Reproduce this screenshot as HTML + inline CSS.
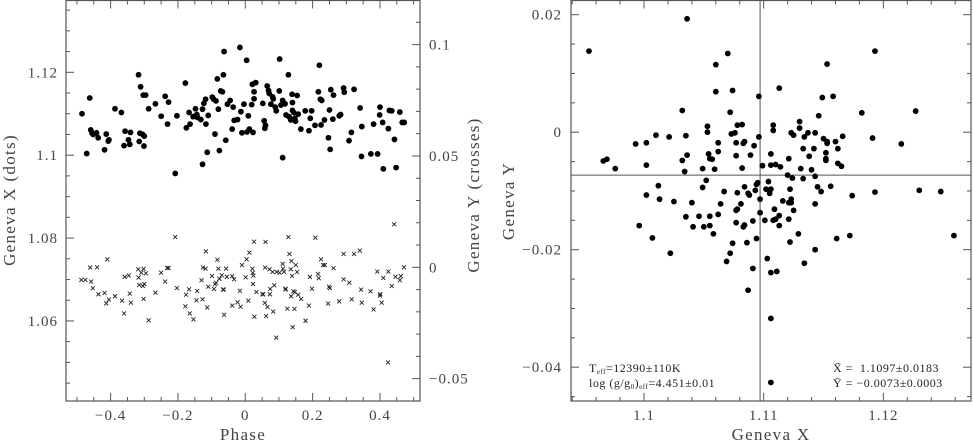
<!DOCTYPE html>
<html><head><meta charset="utf-8"><style>
html,body{margin:0;padding:0;background:#fff;}
svg{display:block;font-family:"Liberation Serif",serif;}
.tl{letter-spacing:1px;}
.ti{letter-spacing:1.3px;}
</style></head><body>
<svg id="chart" width="973" height="443" viewBox="0 0 973 443"></svg>
<script>
// ---- Left panel data: phase vs Geneva X (dots) ----
const dotPhase=[-0.485,-0.471,-0.462,-0.459,-0.455,-0.452,-0.442,-0.437,-0.418,-0.413,-0.407,-0.405,-0.387,-0.368,-0.360,-0.357,-0.347,-0.341,-0.343,-0.317,-0.311,-0.313,-0.315,-0.305,-0.301,-0.300,-0.303,-0.296,-0.287,-0.267,-0.250,-0.238,-0.231,-0.228,-0.208,-0.203,-0.178,-0.175,-0.167,-0.164,-0.155,-0.148,-0.147,-0.144,-0.142,-0.132,-0.127,-0.127,-0.123,-0.118,-0.117,-0.113,-0.110,-0.098,-0.094,-0.090,-0.087,-0.083,-0.080,-0.077,-0.073,-0.068,-0.065,-0.063,-0.058,-0.053,-0.045,-0.039,-0.036,-0.033,-0.023,-0.016,-0.013,-0.010,-0.004,0.004,0.005,0.009,0.012,0.019,0.021,0.023,0.026,0.026,0.031,0.052,0.056,0.058,0.060,0.065,0.069,0.071,0.076,0.081,0.083,0.089,0.092,0.102,0.101,0.106,0.111,0.111,0.118,0.121,0.128,0.130,0.135,0.139,0.140,0.140,0.144,0.147,0.149,0.154,0.157,0.165,0.178,0.189,0.193,0.197,0.207,0.217,0.220,0.223,0.225,0.227,0.235,0.247,0.250,0.252,0.254,0.260,0.262,0.279,0.283,0.292,0.294,0.308,0.315,0.323,0.341,0.345,0.346,0.373,0.381,0.393,0.400,0.399,0.408,0.410,0.425,0.428,0.435,0.443,0.448,0.459,0.466,0.472];
const dotX=[1.1100,1.1004,1.1138,1.1061,1.1053,1.1050,1.1054,1.1042,1.1013,1.1051,1.1034,1.1037,1.1112,1.1103,1.1023,1.1058,1.1037,1.1055,1.1026,1.1194,1.1165,1.1053,1.1033,1.1050,1.1022,1.1046,1.1145,1.1145,1.1112,1.1124,1.1094,1.1142,1.1075,1.1128,1.0956,1.1095,1.1174,1.1066,1.1103,1.1075,1.1093,1.1112,1.1095,1.1098,1.1091,1.1086,1.1111,1.0978,1.1125,1.1135,1.1075,1.1007,1.1096,1.1140,1.1135,1.1051,1.1131,1.1184,1.1111,1.1011,1.1155,1.1153,1.1194,1.1250,1.1036,1.1123,1.1132,1.1063,1.1116,1.1084,1.1086,1.1260,1.1105,1.1054,1.1123,1.1229,1.1056,1.1095,1.1063,1.1122,1.1171,1.1055,1.1153,1.1136,1.1175,1.1125,1.1083,1.1065,1.1072,1.1167,1.1156,1.1149,1.1123,1.1141,1.1136,1.1116,1.1107,1.1232,1.1155,1.1121,1.0994,1.1132,1.1124,1.1097,1.1194,1.1093,1.1085,1.1147,1.1127,1.1108,1.1103,1.1089,1.1082,1.1144,1.1099,1.1063,1.1107,1.1059,1.1089,1.1107,1.1072,1.1153,1.1217,1.1135,1.1073,1.1132,1.1085,1.1042,1.1109,1.1014,1.1158,1.1087,1.1145,1.1095,1.1098,1.1162,1.1152,1.1035,1.1055,1.1159,1.1114,1.0997,1.1069,1.1003,1.1075,1.1003,1.1116,1.1097,1.1079,1.0967,1.1064,1.1108,1.1107,1.1038,1.0970,1.1104,1.1079,1.1079];
// ---- Left panel data: phase vs Geneva Y (crosses) ----
const crossPhase=[-0.487,-0.475,-0.461,-0.458,-0.453,-0.440,-0.436,-0.418,-0.413,-0.410,-0.405,-0.387,-0.366,-0.360,-0.358,-0.346,-0.343,-0.340,-0.318,-0.317,-0.315,-0.309,-0.304,-0.302,-0.302,-0.300,-0.295,-0.287,-0.267,-0.250,-0.238,-0.232,-0.228,-0.208,-0.203,-0.178,-0.176,-0.167,-0.165,-0.154,-0.145,-0.143,-0.130,-0.127,-0.126,-0.118,-0.117,-0.113,-0.110,-0.099,-0.093,-0.090,-0.087,-0.083,-0.080,-0.077,-0.070,-0.066,-0.064,-0.063,-0.057,-0.055,-0.039,-0.039,-0.033,-0.023,-0.016,-0.014,-0.010,0.001,0.004,0.012,0.009,0.021,0.022,0.023,0.024,0.026,0.027,0.033,0.051,0.053,0.058,0.059,0.060,0.062,0.066,0.072,0.073,0.074,0.081,0.083,0.086,0.092,0.093,0.102,0.111,0.112,0.115,0.119,0.120,0.125,0.128,0.131,0.135,0.136,0.137,0.139,0.141,0.143,0.146,0.147,0.150,0.154,0.157,0.166,0.179,0.189,0.192,0.198,0.208,0.216,0.218,0.225,0.231,0.236,0.249,0.251,0.246,0.262,0.279,0.292,0.292,0.309,0.316,0.323,0.340,0.344,0.346,0.372,0.381,0.392,0.400,0.401,0.405,0.410,0.424,0.425,0.435,0.442,0.446,0.459,0.462,0.471];
const crossY=[-0.0057,-0.0057,-0.0001,-0.0064,-0.0094,0,-0.0121,-0.0115,-0.0162,0.0036,-0.0145,-0.0130,-0.0150,-0.0207,-0.0043,-0.0037,-0.0118,-0.0159,-0.0009,-0.0046,-0.0079,-0.0024,-0.0084,-0.0007,-0.0142,-0.0075,-0.0027,-0.0238,-0.0114,-0.0024,-0.0064,-0.0003,-0.0003,0.0136,-0.0093,-0.0175,-0.0123,-0.0099,-0.0207,-0.0234,-0.0148,-0.0106,-0.0058,-0.0144,-0.0001,-0.0006,0.0072,-0.0181,-0.0087,-0.0039,-0.0097,-0.0076,-0.0069,0.0034,-0.0006,-0.0052,-0.0036,-0.0100,-0.0100,-0.0213,-0.0006,-0.0043,-0.0040,-0.0172,-0.0054,-0.0157,-0.0105,-0.0177,0.0010,-0.0045,0.0036,0.0066,-0.0150,-0.0006,-0.0025,-0.0075,-0.0037,0.0115,-0.0222,-0.0111,-0.0121,-0.0121,-0.0160,-0.0001,0.0114,-0.0219,-0.0178,-0.0009,-0.0121,-0.0097,-0.0021,-0.0199,-0.0081,-0.0316,-0.0021,-0.0024,0.0015,-0.0006,-0.0021,-0.0100,-0.0096,-0.0186,0.0136,0.0060,-0.0009,-0.0130,0.0028,-0.0039,-0.0269,-0.0108,-0.0187,-0.0111,0.0010,-0.0021,-0.0123,-0.0142,-0.0240,-0.0172,-0.0043,-0.0096,0.0133,-0.0030,-0.0049,0.0036,0.0010,0.0010,-0.0087,-0.0094,-0.0163,-0.0004,-0.0153,0.0060,-0.0054,-0.0069,-0.0144,0.0060,0.0075,-0.0100,-0.0159,-0.0108,-0.0189,-0.0019,-0.0127,-0.0121,-0.0159,-0.0048,-0.0427,-0.0019,-0.0084,0.0193,-0.0042,-0.0058,-0.0040,0];
// ---- Right panel data: Geneva X vs Geneva Y ----
const scX=[1.0954,1.1036,1.1070,1.1060,1.1193,1.1153,1.1060,1.1074,1.1113,1.1096,1.1149,1.1158,1.1032,1.1072,1.1182,1.1227,1.1130,1.1146,1.1053,1.1053,1.1078,1.1082,1.1108,1.1108,1.1130,1.1123,1.1125,1.1143,1.1137,1.1073,1.1076,1.1035,1.1010,1.1021,1.0993,1.1002,1.1191,1.1215,1.1166,1.1150,1.1153,1.1134,1.1133,1.1142,1.1160,1.1153,1.1062,1.1083,1.1084,1.1077,1.1092,1.1106,1.1096,1.1110,1.1114,1.1121,1.1138,1.1140,1.1152,1.1152,1.1152,1.1162,1.1165,1.1162,1.0966,1.0969,1.0976,1.1002,1.1032,1.1034,1.1036,1.1049,1.1054,1.1055,1.1057,1.1059,1.1062,1.1077,1.1082,1.1089,1.1099,1.1106,1.1120,1.1124,1.1131,1.1133,1.1143,1.1145,1.1148,1.1156,1.1174,1.1193,1.1230,1.1248,1.1012,1.1002,1.1013,1.1025,1.1040,1.1049,1.1052,1.1064,1.1067,1.1078,1.1081,1.1078,1.1084,1.1087,1.1088,1.1093,1.1094,1.1095,1.1097,1.1097,1.1101,1.1104,1.1102,1.1105,1.1106,1.1116,1.1109,1.1110,1.1113,1.1121,1.1122,1.1123,1.1123,1.1121,1.1125,1.1143,1.1035,1.1046,1.1055,1.1041,1.1050,1.1055,1.1058,1.1062,1.1077,1.1077,1.1084,1.1083,1.1091,1.1113,1.1129,1.1122,1.1108,1.1094,1.1074,1.1086,1.1072,1.1069,1.0996,1.1007,1.1022,1.1161,1.1172,1.1259,1.1143,1.1134,1.1103,1.1091,1.1106,1.1111,1.1087,1.1106,1.1106];
const scY=[0.0138,0.0193,0.0134,0.0115,0.0138,0.0116,0.0069,0.0071,0.0075,0.0061,0.0059,0.0061,0.0037,0.0034,0.0033,0.0036,0.0018,0.0028,0.0010,0,0.0012,0.0013,0.0012,0.0003,0.0007,-0.0001,-0.0005,-0.0001,-0.0001,-0.0003,-0.0001,-0.0006,-0.0005,-0.0008,-0.0020,-0.0018,-0.0010,-0.0020,-0.0007,-0.0011,-0.0016,-0.0008,-0.0028,-0.0028,-0.0016,-0.0019,-0.0018,-0.0019,-0.0016,-0.0018,-0.0023,-0.0037,-0.0008,-0.0055,-0.0059,-0.0045,-0.0041,-0.0064,-0.0035,-0.0045,-0.0048,-0.0053,-0.0058,-0.0028,-0.0049,-0.0046,-0.0062,-0.0056,-0.0048,-0.0067,-0.0039,-0.0062,-0.0037,-0.0045,-0.0046,-0.0063,-0.0033,-0.0040,-0.0061,-0.0039,-0.0057,-0.0056,-0.0073,-0.0078,-0.0062,-0.0079,-0.0075,-0.0093,-0.0101,-0.0092,-0.0108,-0.0102,-0.0099,-0.0101,-0.0091,-0.0107,-0.0114,-0.0118,-0.0120,-0.0094,-0.0082,-0.0122,-0.0101,-0.0103,-0.0122,-0.0131,-0.0093,-0.0104,-0.0107,-0.0099,-0.0089,-0.0086,-0.0114,-0.0137,-0.0150,-0.0084,-0.0097,-0.0104,-0.0097,-0.0117,-0.0131,-0.0148,-0.0142,-0.0120,-0.0097,-0.0114,-0.0120,-0.0148,-0.0133,-0.0122,-0.0144,-0.0143,-0.0143,-0.0161,-0.0161,-0.0159,-0.0173,-0.0140,-0.0133,-0.0154,-0.0158,-0.0161,-0.0151,-0.0159,-0.0173,-0.0187,-0.0150,-0.0181,-0.0189,-0.0188,-0.0206,-0.0220,-0.0159,-0.0180,-0.0206,-0.0181,-0.0176,-0.0176,-0.0200,-0.0223,-0.0215,-0.0232,-0.0239,-0.0237,-0.0269,-0.0317,-0.0426];
const meanX=1.1097, meanY=-0.0073;
const phaseTicks=[-0.4,-0.2,0,0.2,0.4];
const leftXTicks=[1.06,1.08,1.1,1.12];
const rightYTicks=[-0.05,0,0.05,0.1];
const scXTicks=[1.1,1.11,1.12];
const scYTicks=[-0.04,-0.02,0,0.02];

const NS='http://www.w3.org/2000/svg';
const svg=document.getElementById('chart');
function mk(tag,attrs,parent){const e=document.createElementNS(NS,tag);for(const k in attrs)e.setAttribute(k,attrs[k]);(parent||svg).appendChild(e);return e;}
const C='#555';
const L={x0:66,x1:420,y0:0.5,y1:401};
const phX=v=>245.3+v*336.7;
const lX=v=>72.3-(v-1.12)*4144;
const lY=v=>267.3-v*2227;
const R={x0:571,x1:971,y0:0.5,y1:401};
const rX=v=>644+(v-1.1)*11967;
const rY=v=>132.2-v*5875;
const fmt=v=>(v<0?'\u2212':'')+String(Math.abs(Math.round(v*1000)/1000));

function frame(P,name){const r=mk('rect',{x:P.x0,y:P.y0,width:P.x1-P.x0,height:P.y1-P.y0,fill:'none',stroke:C,'stroke-width':1.2});}
function tickLoop(start,end,step,fn){for(let v=start;v<=end+1e-9;v+=step)fn(Math.round(v*1e5)/1e5);}
function isMajor(v,m){return Math.abs(v/m-Math.round(v/m))<1e-6;}

// ---- LEFT PANEL ----
frame(L,'left-plot-frame');
const gl=mk('g',{});
tickLoop(-0.5,0.5,0.05,v=>{const x=phX(v);if(x<L.x0||x>L.x1)return;const len=isMajor(v,0.2)?8:4;
  mk('line',{x1:x,x2:x,y1:L.y1,y2:L.y1-len,stroke:C},gl);mk('line',{x1:x,x2:x,y1:L.y0,y2:L.y0+len,stroke:C},gl);});
tickLoop(1.04,1.135,0.005,v=>{const y=lX(v);if(y<0||y>L.y1)return;const len=isMajor(v,0.02)?8:4;mk('line',{x1:L.x0,x2:L.x0+len,y1:y,y2:y,stroke:C},gl);});
tickLoop(-0.06,0.12,0.01,v=>{const y=lY(v);if(y<0||y>L.y1)return;const len=isMajor(v,0.05)?8:4;mk('line',{x1:L.x1,x2:L.x1-len,y1:y,y2:y,stroke:C},gl);});
phaseTicks.forEach(v=>{const t=mk('text',{x:phX(v),y:420,'text-anchor':'middle','font-size':15,fill:'#444',class:'tl'});t.textContent=fmt(v);});
leftXTicks.forEach(v=>{const t=mk('text',{x:58,y:lX(v)+5,'text-anchor':'end','font-size':15,fill:'#444',class:'tl'});t.textContent=String(v);});
rightYTicks.forEach(v=>{const t=mk('text',{x:429,y:lY(v)+5,'text-anchor':'start','font-size':15,fill:'#444',class:'tl'});t.textContent=fmt(v);});
let t;
t=mk('text',{x:243,y:440,'text-anchor':'middle','font-size':17,fill:'#444',class:'ti'});t.textContent='Phase';
t=mk('text',{x:0,y:0,transform:'translate(15,200) rotate(-90)','text-anchor':'middle','font-size':17,fill:'#444',class:'ti'});t.textContent='Geneva X (dots)';
t=mk('text',{x:0,y:0,transform:'translate(479,195) rotate(-90)','text-anchor':'middle','font-size':17,fill:'#444',class:'ti'});t.textContent='Geneva Y (crosses)';
const gd=mk('g',{fill:'#000'});
dotPhase.forEach((p,i)=>{const c=mk('circle',{cx:phX(p),cy:lX(dotX[i]),r:2.9},gd);});
const gc=mk('g',{stroke:'#222','stroke-width':0.9});
crossPhase.forEach((p,i)=>{const x=phX(p),y=lY(crossY[i]),s=2;const p2=mk('path',{d:`M${x-s} ${y-s}L${x+s} ${y+s}M${x-s} ${y+s}L${x+s} ${y-s}`},gc);});

// ---- RIGHT PANEL ----
frame(R,'right-plot-frame');
const gr=mk('g',{});
tickLoop(1.092,1.128,0.002,v=>{const x=rX(v);if(x<R.x0||x>R.x1)return;const len=isMajor(v,0.01)?8:4;
  mk('line',{x1:x,x2:x,y1:R.y1,y2:R.y1-len,stroke:C},gr);mk('line',{x1:x,x2:x,y1:R.y0,y2:R.y0+len,stroke:C},gr);});
tickLoop(-0.05,0.025,0.005,v=>{const y=rY(v);if(y<0||y>R.y1)return;const len=isMajor(v,0.02)?8:4;
  mk('line',{x1:R.x0,x2:R.x0+len,y1:y,y2:y,stroke:C},gr);mk('line',{x1:R.x1,x2:R.x1-len,y1:y,y2:y,stroke:C},gr);});
scXTicks.forEach(v=>{const t=mk('text',{x:rX(v),y:420,'text-anchor':'middle','font-size':15,fill:'#444',class:'tl'});t.textContent=String(v);});
scYTicks.forEach(v=>{const t=mk('text',{x:562,y:rY(v)+5,'text-anchor':'end','font-size':15,fill:'#444',class:'tl'});t.textContent=fmt(v);});
t=mk('text',{x:771,y:440,'text-anchor':'middle','font-size':17,fill:'#444',class:'ti'});t.textContent='Geneva X';
t=mk('text',{x:0,y:0,transform:'translate(514,201) rotate(-90)','text-anchor':'middle','font-size':17,fill:'#444',class:'ti'});t.textContent='Geneva Y';
let ln=mk('line',{x1:rX(meanX),x2:rX(meanX),y1:R.y0,y2:R.y1,stroke:C,'stroke-width':1});
ln=mk('line',{x1:R.x0,x2:R.x1,y1:rY(meanY),y2:rY(meanY),stroke:C,'stroke-width':1});
const gs=mk('g',{fill:'#000'});
scX.forEach((x,i)=>{const c=mk('circle',{cx:rX(x),cy:rY(scY[i]),r:2.9},gs);});
</script>
<script>
(function(){
const NS='http://www.w3.org/2000/svg';const svg=document.getElementById('chart');
const g=document.createElementNS(NS,'g');


g.setAttribute('font-size','12');g.setAttribute('fill','#222');g.setAttribute('letter-spacing','0.5');
g.innerHTML='<text x="589" y="372">T<tspan font-size="7" dy="2">eff</tspan><tspan dy="-2">=12390±110K</tspan></text>'+
'<text x="589" y="387">log (g/g<tspan font-size="7" dy="2">0</tspan><tspan dy="-2">)</tspan><tspan font-size="7" dy="2">eff</tspan><tspan dy="-2">=4.451±0.01</tspan></text>'+
'<text x="833" y="372" xml:space="preserve">X̄ =  1.1097±0.0183</text>'+
'<text x="833" y="387" xml:space="preserve">Ȳ = −0.0073±0.0003</text>';
svg.appendChild(g);
})();
</script>
</body></html>
